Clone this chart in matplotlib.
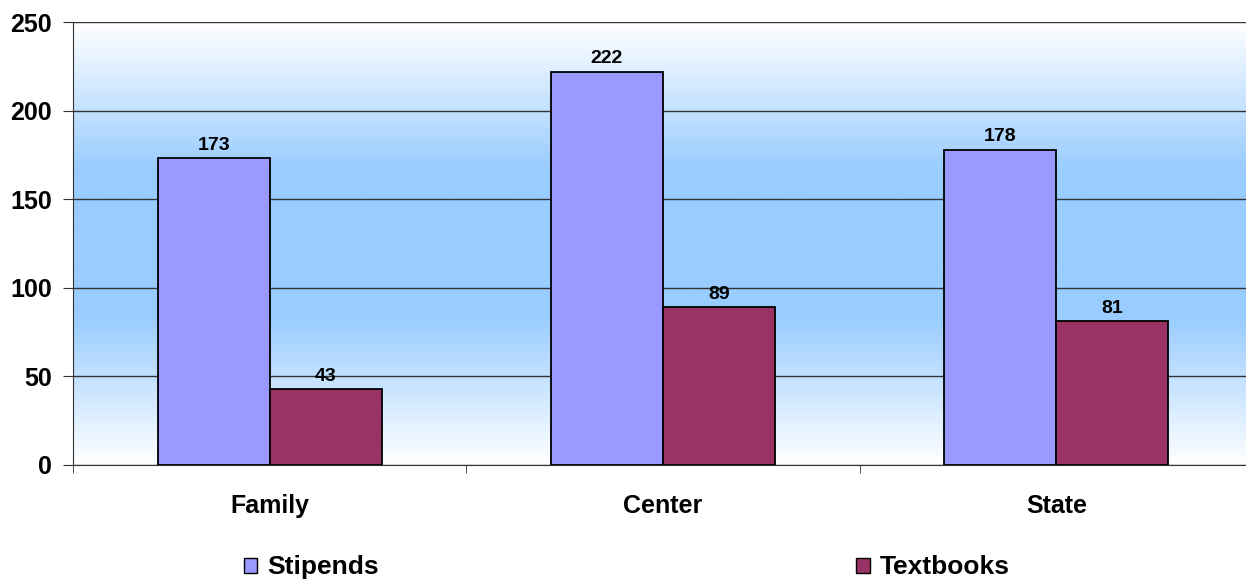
import numpy as np
import matplotlib
matplotlib.use("Agg")
import matplotlib.pyplot as plt
from matplotlib.colors import LinearSegmentedColormap
from matplotlib.patches import Patch

categories = ["Family", "Center", "State"]
stipends = [173, 222, 178]
textbooks = [43, 89, 81]
yticks = [0, 50, 100, 150, 200, 250]

plt.rcParams['font.family'] = ['Liberation Sans', 'DejaVu Sans']
plt.rcParams['font.weight'] = 'bold'

fig = plt.figure(figsize=(12.46, 5.85), dpi=100)
# plot area runs slightly past the right edge of the image, as in the original
ax = fig.add_axes([73 / 1246, 1 - 465 / 585, (1253 - 73) / 1246, (465 - 22) / 585])

# gradient background: white top, light blue middle, white bottom
cmap = LinearSegmentedColormap.from_list("bg", ["#FFFFFF", "#99CCFF", "#99CCFF", "#FFFFFF"])
grad = np.linspace(0, 1, 256).reshape(-1, 1)
ax.imshow(grad, aspect='auto', cmap=cmap, extent=[-0.5, 2.5, 0, 250], zorder=0, origin='upper')

x = np.arange(len(categories))
w = 0.285
b1 = ax.bar(x - w / 2, stipends, w, color='#9999FF', edgecolor='black', linewidth=1.3, zorder=3)
b2 = ax.bar(x + w / 2, textbooks, w, color='#993366', edgecolor='black', linewidth=1.3, zorder=3)

for bars, vals in ((b1, stipends), (b2, textbooks)):
    for r, v in zip(bars, vals):
        ax.annotate(str(v), (r.get_x() + r.get_width() / 2, v), xytext=(0, 3),
                    textcoords='offset points', ha='center', va='bottom',
                    fontsize=14, fontweight='bold')

ax.set_xlim(-0.5, 2.5)
ax.set_ylim(0, 250)
ax.set_yticks(yticks)
ax.set_yticklabels([str(t) for t in yticks], fontsize=18, fontweight='bold')
ax.yaxis.grid(True, color='#333333', linewidth=1)
for gl in ax.get_ygridlines():
    gl.set_zorder(1)

ax.set_xticks(x)
ax.set_xticklabels(categories, fontsize=18, fontweight='bold')
ax.tick_params(axis='x', length=0, pad=21)
ax.set_xticks([-0.5, 0.5, 1.5, 2.5], minor=True)
ax.tick_params(axis='x', which='minor', length=6, color='#333333')
ax.tick_params(axis='y', length=7, color='#333333', pad=8)

ax.spines['right'].set_visible(False)
ax.spines['top'].set_visible(False)
ax.spines['left'].set_color('#333333')
ax.spines['bottom'].set_color('#333333')

handles = [Patch(facecolor='#9999FF', edgecolor='black'),
           Patch(facecolor='#993366', edgecolor='black')]
fig.legend(handles, ["Stipends", "Textbooks"], loc='center', bbox_to_anchor=(0.503, 0.03),
           ncol=2, frameon=False, handlelength=0.5, handleheight=0.5,
           handletextpad=0.38, columnspacing=18.1, prop={'weight': 'bold', 'size': 19})

fig.savefig("out.png", dpi=100)
